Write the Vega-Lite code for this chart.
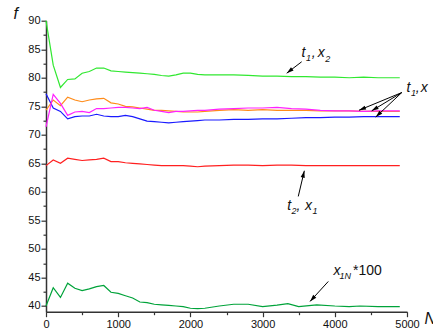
{
  "$schema": "https://vega.github.io/schema/vega-lite/v6.json",
  "width": 361,
  "height": 291,
  "autosize": {"type": "none"},
  "padding": {"left": 46, "top": 20.7, "right": 26, "bottom": 19},
  "background": "white",
  "config": {
    "view": {"stroke": null},
    "font": "Liberation Sans",
    "axis": {
      "grid": false,
      "domainColor": "#333333",
      "domainWidth": 1.5,
      "tickColor": "#333333",
      "tickWidth": 1.2,
      "labelFont": "Liberation Sans",
      "labelFontSize": 11,
      "labelColor": "#111111",
      "titleFont": "Liberation Sans",
      "titleColor": "#111111"
    }
  },
  "datasets": {
    "lines": [
      {"N":0,"s":"s1","f":64.6},{"N":100,"s":"s1","f":65.6},{"N":200,"s":"s1","f":65.0},{"N":300,"s":"s1","f":65.9},{"N":400,"s":"s1","f":65.7},{"N":500,"s":"s1","f":65.5},{"N":600,"s":"s1","f":65.6},{"N":700,"s":"s1","f":65.7},{"N":800,"s":"s1","f":65.9},{"N":900,"s":"s1","f":65.3},{"N":1000,"s":"s1","f":65.3},{"N":1100,"s":"s1","f":65.1},{"N":1200,"s":"s1","f":65.0},{"N":1300,"s":"s1","f":64.9},{"N":1400,"s":"s1","f":64.8},{"N":1500,"s":"s1","f":64.7},{"N":1600,"s":"s1","f":64.6},{"N":1700,"s":"s1","f":64.6},{"N":1800,"s":"s1","f":64.6},{"N":1900,"s":"s1","f":64.6},{"N":2000,"s":"s1","f":64.5},{"N":2100,"s":"s1","f":64.4},{"N":2200,"s":"s1","f":64.5},{"N":2400,"s":"s1","f":64.6},{"N":2600,"s":"s1","f":64.7},{"N":2800,"s":"s1","f":64.7},{"N":3000,"s":"s1","f":64.6},{"N":3200,"s":"s1","f":64.7},{"N":3400,"s":"s1","f":64.7},{"N":3600,"s":"s1","f":64.6},{"N":3800,"s":"s1","f":64.6},{"N":4000,"s":"s1","f":64.6},{"N":4200,"s":"s1","f":64.6},{"N":4400,"s":"s1","f":64.6},{"N":4600,"s":"s1","f":64.6},{"N":4800,"s":"s1","f":64.6},{"N":4900,"s":"s1","f":64.6},

      {"N":0,"s":"s2","f":40.0},{"N":100,"s":"s2","f":43.2},{"N":200,"s":"s2","f":41.5},{"N":300,"s":"s2","f":44.0},{"N":400,"s":"s2","f":43.1},{"N":500,"s":"s2","f":42.7},{"N":600,"s":"s2","f":43.0},{"N":700,"s":"s2","f":43.4},{"N":800,"s":"s2","f":43.6},{"N":900,"s":"s2","f":42.4},{"N":1000,"s":"s2","f":42.2},{"N":1100,"s":"s2","f":41.8},{"N":1200,"s":"s2","f":41.4},{"N":1300,"s":"s2","f":40.7},{"N":1400,"s":"s2","f":40.6},{"N":1500,"s":"s2","f":40.3},{"N":1600,"s":"s2","f":40.2},{"N":1700,"s":"s2","f":40.1},{"N":1800,"s":"s2","f":40.0},{"N":1900,"s":"s2","f":39.9},{"N":2000,"s":"s2","f":39.6},{"N":2100,"s":"s2","f":39.55},{"N":2200,"s":"s2","f":39.6},{"N":2400,"s":"s2","f":40.0},{"N":2600,"s":"s2","f":40.3},{"N":2800,"s":"s2","f":40.3},{"N":3000,"s":"s2","f":39.9},{"N":3200,"s":"s2","f":40.15},{"N":3350,"s":"s2","f":40.4},{"N":3500,"s":"s2","f":39.9},{"N":3750,"s":"s2","f":40.2},{"N":4000,"s":"s2","f":40.0},{"N":4200,"s":"s2","f":39.9},{"N":4350,"s":"s2","f":40.0},{"N":4600,"s":"s2","f":39.9},{"N":4900,"s":"s2","f":39.9},

      {"N":0,"s":"s3","f":90.0},{"N":100,"s":"s3","f":82.2},{"N":200,"s":"s3","f":78.3},{"N":300,"s":"s3","f":79.7},{"N":400,"s":"s3","f":79.8},{"N":500,"s":"s3","f":80.8},{"N":600,"s":"s3","f":81.1},{"N":700,"s":"s3","f":81.7},{"N":800,"s":"s3","f":81.7},{"N":900,"s":"s3","f":81.2},{"N":1000,"s":"s3","f":81.1},{"N":1100,"s":"s3","f":81.0},{"N":1200,"s":"s3","f":80.9},{"N":1300,"s":"s3","f":80.8},{"N":1400,"s":"s3","f":80.7},{"N":1500,"s":"s3","f":80.6},{"N":1600,"s":"s3","f":80.4},{"N":1700,"s":"s3","f":80.3},{"N":1800,"s":"s3","f":80.5},{"N":1900,"s":"s3","f":80.8},{"N":2000,"s":"s3","f":80.8},{"N":2100,"s":"s3","f":80.6},{"N":2200,"s":"s3","f":80.5},{"N":2400,"s":"s3","f":80.5},{"N":2600,"s":"s3","f":80.5},{"N":2800,"s":"s3","f":80.4},{"N":3000,"s":"s3","f":80.3},{"N":3200,"s":"s3","f":80.3},{"N":3400,"s":"s3","f":80.2},{"N":3600,"s":"s3","f":80.2},{"N":3800,"s":"s3","f":80.1},{"N":4000,"s":"s3","f":80.1},{"N":4200,"s":"s3","f":80.0},{"N":4400,"s":"s3","f":80.1},{"N":4600,"s":"s3","f":80.0},{"N":4800,"s":"s3","f":80.0},{"N":4900,"s":"s3","f":80.0},

      {"N":0,"s":"s4","f":77.2},{"N":100,"s":"s4","f":74.7},{"N":200,"s":"s4","f":74.1},{"N":300,"s":"s4","f":72.8},{"N":400,"s":"s4","f":73.2},{"N":500,"s":"s4","f":73.3},{"N":600,"s":"s4","f":73.3},{"N":700,"s":"s4","f":73.6},{"N":800,"s":"s4","f":73.3},{"N":900,"s":"s4","f":73.2},{"N":1000,"s":"s4","f":73.2},{"N":1100,"s":"s4","f":73.4},{"N":1200,"s":"s4","f":73.2},{"N":1300,"s":"s4","f":72.8},{"N":1400,"s":"s4","f":72.4},{"N":1500,"s":"s4","f":72.3},{"N":1600,"s":"s4","f":72.2},{"N":1700,"s":"s4","f":72.1},{"N":1800,"s":"s4","f":72.2},{"N":1900,"s":"s4","f":72.3},{"N":2000,"s":"s4","f":72.4},{"N":2100,"s":"s4","f":72.5},{"N":2200,"s":"s4","f":72.6},{"N":2400,"s":"s4","f":72.6},{"N":2600,"s":"s4","f":72.7},{"N":2800,"s":"s4","f":72.7},{"N":3000,"s":"s4","f":72.8},{"N":3200,"s":"s4","f":72.8},{"N":3400,"s":"s4","f":72.9},{"N":3600,"s":"s4","f":73.0},{"N":3800,"s":"s4","f":73.0},{"N":4000,"s":"s4","f":73.1},{"N":4200,"s":"s4","f":73.1},{"N":4400,"s":"s4","f":73.2},{"N":4600,"s":"s4","f":73.2},{"N":4800,"s":"s4","f":73.2},{"N":4900,"s":"s4","f":73.2},

      {"N":0,"s":"s5","f":74.3},{"N":100,"s":"s5","f":76.1},{"N":200,"s":"s5","f":75.1},{"N":300,"s":"s5","f":76.6},{"N":400,"s":"s5","f":76.1},{"N":500,"s":"s5","f":75.8},{"N":600,"s":"s5","f":76.1},{"N":700,"s":"s5","f":76.3},{"N":800,"s":"s5","f":76.4},{"N":900,"s":"s5","f":75.6},{"N":1000,"s":"s5","f":75.4},{"N":1100,"s":"s5","f":75.0},{"N":1200,"s":"s5","f":74.9},{"N":1300,"s":"s5","f":74.7},{"N":1400,"s":"s5","f":74.5},{"N":1500,"s":"s5","f":74.3},{"N":1600,"s":"s5","f":74.3},{"N":1700,"s":"s5","f":74.2},{"N":1800,"s":"s5","f":74.1},{"N":1900,"s":"s5","f":74.0},{"N":2000,"s":"s5","f":74.0},{"N":2100,"s":"s5","f":74.0},{"N":2200,"s":"s5","f":74.1},{"N":2400,"s":"s5","f":74.3},{"N":2600,"s":"s5","f":74.4},{"N":2800,"s":"s5","f":74.3},{"N":3000,"s":"s5","f":74.4},{"N":3200,"s":"s5","f":74.3},{"N":3400,"s":"s5","f":74.3},{"N":3600,"s":"s5","f":74.3},{"N":3800,"s":"s5","f":74.2},{"N":4000,"s":"s5","f":74.2},{"N":4200,"s":"s5","f":74.2},{"N":4400,"s":"s5","f":74.1},{"N":4600,"s":"s5","f":74.1},{"N":4800,"s":"s5","f":74.1},{"N":4900,"s":"s5","f":74.1},

      {"N":0,"s":"s6","f":71.4},{"N":100,"s":"s6","f":77.1},{"N":200,"s":"s6","f":75.5},{"N":300,"s":"s6","f":73.4},{"N":400,"s":"s6","f":74.0},{"N":500,"s":"s6","f":74.1},{"N":600,"s":"s6","f":73.9},{"N":700,"s":"s6","f":74.6},{"N":800,"s":"s6","f":74.6},{"N":900,"s":"s6","f":74.7},{"N":1000,"s":"s6","f":74.8},{"N":1100,"s":"s6","f":74.8},{"N":1200,"s":"s6","f":74.7},{"N":1300,"s":"s6","f":74.6},{"N":1400,"s":"s6","f":74.8},{"N":1500,"s":"s6","f":74.3},{"N":1600,"s":"s6","f":74.1},{"N":1700,"s":"s6","f":73.9},{"N":1800,"s":"s6","f":74.1},{"N":1900,"s":"s6","f":74.1},{"N":2000,"s":"s6","f":74.2},{"N":2100,"s":"s6","f":74.3},{"N":2200,"s":"s6","f":74.3},{"N":2400,"s":"s6","f":74.5},{"N":2600,"s":"s6","f":74.6},{"N":2800,"s":"s6","f":74.7},{"N":3000,"s":"s6","f":74.7},{"N":3200,"s":"s6","f":74.8},{"N":3400,"s":"s6","f":74.6},{"N":3600,"s":"s6","f":74.5},{"N":3800,"s":"s6","f":74.3},{"N":4000,"s":"s6","f":74.2},{"N":4200,"s":"s6","f":74.2},{"N":4400,"s":"s6","f":74.1},{"N":4600,"s":"s6","f":74.2},{"N":4800,"s":"s6","f":74.2},{"N":4900,"s":"s6","f":74.2}
    ],
    "arrows": [
      {"x1":3541,"y1":82.8,"x2":3334,"y2":80.8},
      {"x1":4927,"y1":77.4,"x2":4335,"y2":74.3},
      {"x1":4927,"y1":77.4,"x2":4511,"y2":74.2},
      {"x1":4927,"y1":77.4,"x2":4567,"y2":73.1},
      {"x1":3494,"y1":59.2,"x2":3578,"y2":63.7},
      {"x1":3910,"y1":44.3,"x2":3657,"y2":40.8}
    ],
    "mainText": [
      {"N":3539,"f":83.56,"t":"t"},{"N":3680,"f":83.56,"t":","},{"N":3765,"f":83.56,"t":"x"},
      {"N":4993,"f":77.51,"t":"t"},{"N":5120,"f":77.51,"t":","},{"N":5190,"f":77.51,"t":"x"},
      {"N":3341,"f":56.85,"t":"t"},{"N":3470,"f":56.85,"t":","},{"N":3587,"f":56.85,"t":"x"},
      {"N":3982,"f":45.46,"t":"x"}
    ],
    "subText": [
      {"N":3601,"f":82.94,"t":"1"},{"N":3868,"f":82.77,"t":"2"},
      {"N":5055,"f":76.8,"t":"1"},
      {"N":3400,"f":56.15,"t":"2"},{"N":3691,"f":56.15,"t":"1"},
      {"N":4065,"f":44.76,"t":"1N"}
    ],
    "plainText": [
      {"N":4252,"f":45.46,"t":"*100"}
    ]
  },
  "layer": [
    {
      "data": {"name": "lines"},
      "mark": {"type": "line", "strokeWidth": 1.2},
      "encoding": {
        "x": {
          "field": "N", "type": "quantitative",
          "scale": {"domain": [0, 5000], "nice": false, "zero": false},
          "axis": {
            "orient": "bottom",
            "values": [0, 1000, 2000, 3000, 4000, 5000],
            "format": "d",
            "tickSize": 5,
            "labelPadding": 2,
            "labelFlush": false,
            "labelOverlap": false,
            "title": "N",
            "titleFontSize": 16,
            "titleFontStyle": "italic",
            "titleFontWeight": "normal",
            "titleAngle": 0,
            "titleAlign": "left",
            "titleBaseline": "alphabetic",
            "titleX": 378,
            "titleY": 12
          }
        },
        "y": {
          "field": "f", "type": "quantitative",
          "scale": {"domain": [39, 90], "nice": false, "zero": false},
          "axis": {
            "orient": "left",
            "values": [40, 45, 50, 55, 60, 65, 70, 75, 80, 85, 90],
            "tickSize": 5,
            "labelPadding": 1,
            "labelFlush": false,
            "labelOverlap": false,
            "title": "f",
            "titleFontSize": 16,
            "titleFontStyle": "italic",
            "titleFontWeight": "normal",
            "titleAngle": 0,
            "titleAlign": "left",
            "titleBaseline": "alphabetic",
            "titleX": -33,
            "titleY": -2.5
          }
        },
        "color": {
          "field": "s", "type": "nominal", "legend": null,
          "scale": {
            "domain": ["s1", "s2", "s3", "s4", "s5", "s6"],
            "range": ["#ff2020", "#00a33a", "#30e830", "#1a1aff", "#ff8c1a", "#ff22ff"]
          }
        }
      }
    },
    {
      "data": {"values": [{"N": 0, "f": 40}]},
      "mark": {"type": "point", "opacity": 0},
      "encoding": {
        "x": {
          "field": "N", "type": "quantitative",
          "scale": {"domain": [0, 5000], "nice": false, "zero": false},
          "axis": {"orient": "bottom", "values": [500, 1500, 2500, 3500, 4500], "tickSize": 3, "labels": false, "domain": false, "title": null}
        },
        "y": {
          "field": "f", "type": "quantitative",
          "scale": {"domain": [39, 90], "nice": false, "zero": false},
          "axis": {"orient": "left", "values": [42.5, 47.5, 52.5, 57.5, 62.5, 67.5, 72.5, 77.5, 82.5, 87.5], "tickSize": 3, "labels": false, "domain": false, "title": null}
        }
      }
    },
    {
      "data": {"name": "arrows"},
      "mark": {"type": "rule", "color": "black", "strokeWidth": 1},
      "encoding": {
        "x": {"field": "x1", "type": "quantitative", "scale": {"domain": [0, 5000], "nice": false, "zero": false}, "axis": null},
        "y": {"field": "y1", "type": "quantitative", "scale": {"domain": [39, 90], "nice": false, "zero": false}, "axis": null},
        "x2": {"field": "x2"},
        "y2": {"field": "y2"}
      }
    },
    {
      "data": {"name": "arrows"},
      "transform": [
        {"calculate": "(atan2((datum.x2 - datum.x1) * 361 / 5000, (datum.y2 - datum.y1) * 291 / 51) * 180 / PI + 360) % 360", "as": "ang"}
      ],
      "mark": {"type": "point", "shape": "M0,0L-0.3,1L0.3,1Z", "filled": true, "color": "black", "opacity": 1, "size": 196},
      "encoding": {
        "x": {"field": "x2", "type": "quantitative", "scale": {"domain": [0, 5000], "nice": false, "zero": false}, "axis": null},
        "y": {"field": "y2", "type": "quantitative", "scale": {"domain": [39, 90], "nice": false, "zero": false}, "axis": null},
        "angle": {"field": "ang", "type": "quantitative", "scale": null}
      }
    },
    {
      "data": {"name": "mainText"},
      "mark": {"type": "text", "align": "left", "baseline": "alphabetic", "font": "Liberation Sans", "fontSize": 14, "fontStyle": "italic", "color": "#111111"},
      "encoding": {
        "x": {"field": "N", "type": "quantitative", "scale": {"domain": [0, 5000], "nice": false, "zero": false}, "axis": null},
        "y": {"field": "f", "type": "quantitative", "scale": {"domain": [39, 90], "nice": false, "zero": false}, "axis": null},
        "text": {"field": "t"}
      }
    },
    {
      "data": {"name": "subText"},
      "mark": {"type": "text", "align": "left", "baseline": "alphabetic", "font": "Liberation Sans", "fontSize": 9, "fontStyle": "italic", "color": "#111111"},
      "encoding": {
        "x": {"field": "N", "type": "quantitative", "scale": {"domain": [0, 5000], "nice": false, "zero": false}, "axis": null},
        "y": {"field": "f", "type": "quantitative", "scale": {"domain": [39, 90], "nice": false, "zero": false}, "axis": null},
        "text": {"field": "t"}
      }
    },
    {
      "data": {"name": "plainText"},
      "mark": {"type": "text", "align": "left", "baseline": "alphabetic", "font": "Liberation Sans", "fontSize": 14, "color": "#111111"},
      "encoding": {
        "x": {"field": "N", "type": "quantitative", "scale": {"domain": [0, 5000], "nice": false, "zero": false}, "axis": null},
        "y": {"field": "f", "type": "quantitative", "scale": {"domain": [39, 90], "nice": false, "zero": false}, "axis": null},
        "text": {"field": "t"}
      }
    }
  ],
  "resolve": {"axis": {"x": "independent", "y": "independent"}}
}
